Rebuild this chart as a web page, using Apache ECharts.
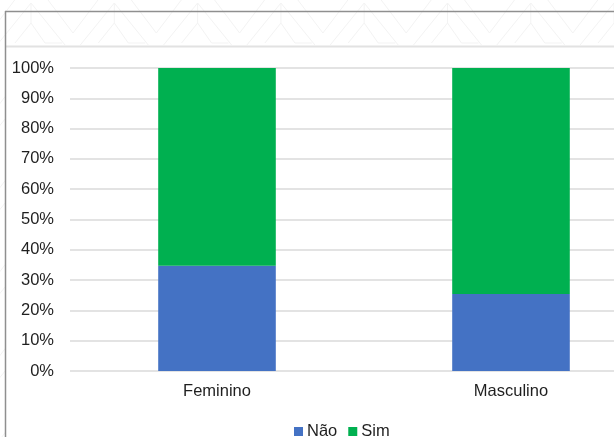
<!DOCTYPE html>
<html>
<head>
<meta charset="utf-8">
<script src="https://cdn.jsdelivr.net/npm/echarts@6/dist/echarts.min.js"></script>
<style>
  html, body { margin: 0; padding: 0; background: #ffffff; overflow: hidden; }
  /* the chart canvas is wider than the window; its right part is cut off */
  #chart { width: 680px; height: 437px; }
</style>
</head>
<body>
<div id="chart"></div>
<script>
// Respondents by sex, share answering "Não" / "Sim" (percent)
const categories = ['Feminino', 'Masculino'];
const naoValues = [34.7, 25.4];
const simValues = [65.3, 74.6];
const seriesNames = ['Não', 'Sim'];
const yTicks = { min: 0, max: 100, interval: 10 };

const FONT = '"Liberation Sans", Arial, sans-serif';

// Faint chevron decoration in the page background
function chevronPattern() {
  const els = [];
  const stroke = { stroke: '#f3f3f3', lineWidth: 1, fill: null };
  const period = 83.3;
  for (let row = 0; row < 6; row++) {
    const oy = row * 84;
    for (let k = -1; k < 9; k++) {
      const x = 31 + k * period;
      const y = 3 + oy;
      els.push({ type: 'polyline', silent: true, z: -10,
        shape: { points: [[x - 34, y + 42], [x, y], [x + 34, y + 42]] }, style: stroke });
      els.push({ type: 'polyline', silent: true, z: -10,
        shape: { points: [[x - 16, y + 40], [x, y + 20], [x + 14, y + 40], [x + 31, y + 40]] }, style: stroke });
      els.push({ type: 'line', silent: true, z: -10,
        shape: { x1: x, y1: y, x2: x, y2: y + 20 }, style: stroke });
      els.push({ type: 'polyline', silent: true, z: -10,
        shape: { points: [[x + 17, y - 3], [x + 42, y + 30], [x + 67, y - 3]] }, style: stroke });
    }
  }
  return els;
}

const chart = echarts.init(document.getElementById('chart'), null, { renderer: 'canvas' });

const graphics = chevronPattern().concat([
  // white chart body
  { type: 'rect', silent: true, z: -5,
    shape: { x: 6, y: 47, width: 700, height: 400 },
    style: { fill: '#ffffff' } },
  // title band separator
  { type: 'line', silent: true, z: -4,
    shape: { x1: 6, y1: 46.5, x2: 700, y2: 46.5 },
    style: { stroke: '#e2e2e2', lineWidth: 2 } },
  // frame: top and left edges
  { type: 'line', silent: true, z: -4,
    shape: { x1: 5, y1: 11.5, x2: 700, y2: 11.5 },
    style: { stroke: '#8f8f8f', lineWidth: 1.5 } },
  { type: 'line', silent: true, z: -4,
    shape: { x1: 5.5, y1: 11, x2: 5.5, y2: 440 },
    style: { stroke: '#8f8f8f', lineWidth: 1.5 } }
]);

chart.setOption({
  backgroundColor: '#ffffff',
  animation: false,
  textStyle: { fontFamily: FONT },
  graphic: graphics,
  grid: { left: 70, top: 68, width: 588, height: 303, containLabel: false },
  legend: {
    data: seriesNames,
    left: 289,
    top: 418,
    itemWidth: 9,
    itemHeight: 9,
    itemGap: 11,
    icon: 'rect',
    textStyle: { fontFamily: FONT, fontSize: 16.5, color: '#1f1f1f', padding: [0, 0, 0, -1] }
  },
  xAxis: {
    type: 'category',
    data: categories,
    axisLine: { show: false },
    axisTick: { show: false },
    axisLabel: { fontFamily: FONT, fontSize: 16.5, color: '#1f1f1f', margin: 12 }
  },
  yAxis: {
    type: 'value',
    min: yTicks.min,
    max: yTicks.max,
    interval: yTicks.interval,
    axisLine: { show: false },
    axisTick: { show: false },
    axisLabel: { fontFamily: FONT, fontSize: 16.5, color: '#1f1f1f', margin: 16, formatter: '{value}%' },
    splitLine: { lineStyle: { color: '#dadada', width: 1.5 } }
  },
  series: [
    { name: seriesNames[0], type: 'bar', stack: 'total', data: naoValues,
      barWidth: '40%', itemStyle: { color: '#4472c4' } },
    { name: seriesNames[1], type: 'bar', stack: 'total', data: simValues,
      barWidth: '40%', itemStyle: { color: '#00b050' } }
  ]
});
</script>
</body>
</html>
